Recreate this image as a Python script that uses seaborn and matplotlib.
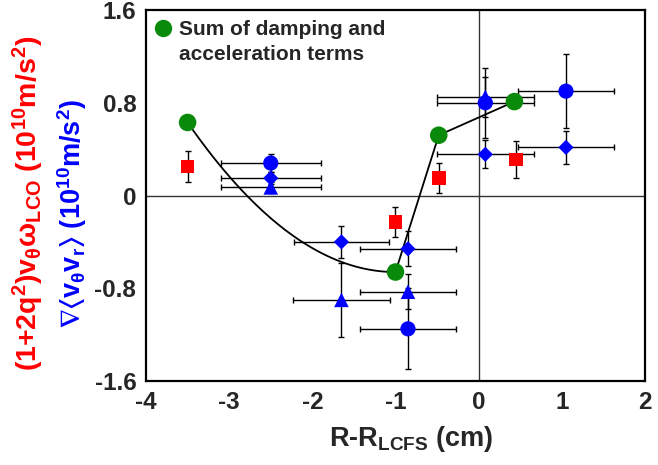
import numpy as np
import pandas as pd
import matplotlib
matplotlib.use("Agg")
import matplotlib.pyplot as plt
from matplotlib.lines import Line2D
import seaborn as sns

# ---- data ----
x_sum = [-3.5, -1.0, -0.48, 0.43]
y_sum = [0.63, -0.66, 0.52, 0.81]

x_red = [-3.5, -1.0, -0.48, 0.45]
y_red = [0.25, -0.23, 0.15, 0.31]
yerr_red = [0.13, 0.13, 0.13, 0.16]

x_circ = [-2.5, -0.85, 0.08, 1.05]
y_circ = [0.28, -1.15, 0.80, 0.90]
xerr_circ = [0.6, 0.58, 0.58, 0.58]
yerr_circ = [0.08, 0.35, 0.30, 0.32]

x_tri = [-2.5, -1.65, -0.85, 0.08]
y_tri = [0.07, -0.90, -0.83, 0.85]
xerr_tri = [0.6, 0.58, 0.58, 0.58]
yerr_tri = [0.05, 0.32, 0.15, 0.17]

x_dia = [-2.5, -1.65, -0.85, 0.08, 1.05]
y_dia = [0.15, -0.40, -0.46, 0.355, 0.415]
xerr_dia = [0.6, 0.57, 0.58, 0.58, 0.58]
yerr_dia = [0.05, 0.14, 0.15, 0.12, 0.145]

x_ticks = [-4, -3, -2, -1, 0, 1, 2]
x_ticklabels = ["-4", "-3", "-2", "-1", "0", "1", "2"]
y_ticks = [-1.6, -0.8, 0, 0.8, 1.6]
y_ticklabels = ["-1.6", "-0.8", "0", "0.8", "1.6"]

legend_lines = ["Sum of damping and", "acceleration terms"]

GREEN = "#0a8a0a"
BLUE = "#0000ff"
RED = "#ff0000"

sns.set_style("white")
plt.rcParams["font.family"] = ["Liberation Sans", "DejaVu Sans"]
plt.rcParams["font.weight"] = "bold"
plt.rcParams["mathtext.fontset"] = "custom"
plt.rcParams["mathtext.rm"] = "Liberation Sans:bold"
plt.rcParams["mathtext.it"] = "Liberation Sans:bold"
plt.rcParams["mathtext.bf"] = "Liberation Sans:bold"
plt.rcParams["mathtext.default"] = "rm"
plt.rcParams["mathtext.fallback"] = "stixsans"

fig = plt.figure(figsize=(6.58, 4.65), dpi=100)
ax = fig.add_axes([0.2219, 0.1806, 0.7583, 0.7979])

ax.axhline(0, color="#333333", lw=1.0, zorder=1)
ax.axvline(0, color="#333333", lw=1.0, zorder=1)

# smooth curve for first segment (vertex at the minimum point), then straight segments
xc = np.linspace(x_sum[0], x_sum[1], 60)
yc = y_sum[1] + (y_sum[0] - y_sum[1]) * ((xc - x_sum[1]) / (x_sum[0] - x_sum[1])) ** 2
line_df = pd.DataFrame({"x": np.concatenate([xc, x_sum[2:]]),
                        "y": np.concatenate([yc, y_sum[2:]])})
sns.lineplot(data=line_df, x="x", y="y", sort=False, color="black", lw=1.3, ax=ax, zorder=2)

eb = dict(fmt="none", ecolor="black", elinewidth=1.0, capsize=2.5, capthick=1.0, zorder=3)
ax.errorbar(x_red, y_red, yerr=yerr_red, **eb)
ax.errorbar(x_circ, y_circ, xerr=xerr_circ, yerr=yerr_circ, **eb)
ax.errorbar(x_tri, y_tri, xerr=xerr_tri, yerr=yerr_tri, **eb)
ax.errorbar(x_dia, y_dia, xerr=xerr_dia, yerr=yerr_dia, **eb)

sns.scatterplot(x=x_red, y=y_red, marker="s", s=95, color=RED, edgecolor="none", ax=ax, zorder=4)
sns.scatterplot(x=x_tri, y=y_tri, marker="^", s=110, color=BLUE, edgecolor="none", ax=ax, zorder=4)
sns.scatterplot(x=x_dia, y=y_dia, marker="D", s=60, color=BLUE, edgecolor="none", ax=ax, zorder=5)
sns.scatterplot(x=x_circ, y=y_circ, marker="o", s=120, color=BLUE, edgecolor="none", ax=ax, zorder=5)
sns.scatterplot(x=x_sum, y=y_sum, marker="o", s=160, color=GREEN, edgecolor="none", ax=ax, zorder=6)

ax.set_xlim(-4, 2)
ax.set_ylim(-1.6, 1.6)
ax.set_xticks(x_ticks)
ax.set_xticklabels(x_ticklabels, fontsize=17.5, fontweight="bold")
ax.set_yticks(y_ticks)
ax.set_yticklabels(y_ticklabels, fontsize=17.5, fontweight="bold")
ax.tick_params(length=0, pad=7)
for s in ax.spines.values():
    s.set_visible(True)
    s.set_color("black")
    s.set_linewidth(1.6)

ax.set_xlabel(r"R-R$_{\rm LCFS}$ (cm)", fontsize=19.5, fontweight="bold", labelpad=8)
ax.xaxis.set_label_coords(0.531, -0.115)
ax.set_ylabel("")
fig.text(0.043, 0.562, r"(1+2q$^2$)v$_\theta\omega_{\rm LCO}$ (10$^{10}$m/s$^2$)",
         rotation=90, color=RED, fontsize=20.5, fontweight="bold", ha="center", va="center")
fig.text(0.11, 0.542, r"$\nabla\langle$v$_\theta$v$_r\rangle$ (10$^{10}$m/s$^2$)",
         rotation=90, color=BLUE, fontsize=19.5, fontweight="bold", ha="center", va="center")

handles = [Line2D([], [], ls="", marker="o", ms=12.5, color=GREEN, mec="none"),
           Line2D([], [], ls="", marker="")]
ax.legend(handles=handles, labels=legend_lines, loc="upper left", frameon=False,
          prop=dict(size=15, weight="bold"), handlelength=0.6, handletextpad=0.5,
          labelspacing=0.3, borderaxespad=0.0, bbox_to_anchor=(0.008, 0.99),
          borderpad=0.3)

fig.savefig("out.png", dpi=100)
